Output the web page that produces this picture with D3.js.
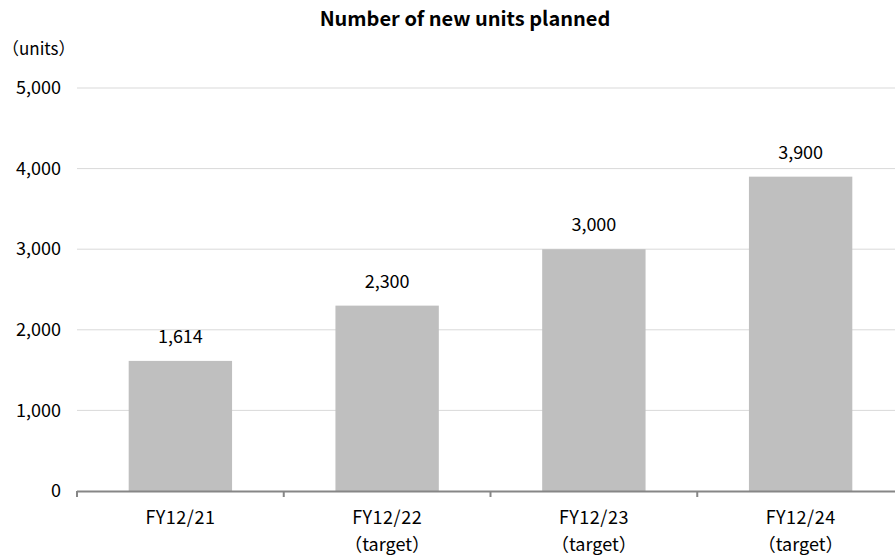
<!DOCTYPE html>
<html>
<head>
<meta charset="utf-8">
<script src="https://cdn.jsdelivr.net/npm/d3@7"></script>
<style>
  html, body { margin: 0; padding: 0; background: #fff; }
  svg text { font-family: "Noto Sans CJK JP", "Noto Sans", sans-serif; fill: #000; }
</style>
</head>
<body>
<svg id="chart" width="895" height="556"></svg>
<script>
// Planned new units per fiscal year
const categories = ["FY12/21", "FY12/22", "FY12/23", "FY12/24"];
const subLabels = ["", "（target）", "（target）", "（target）"];
const units = [1614, 2300, 3000, 3900];
const yTicks = [0, 1000, 2000, 3000, 4000, 5000];

const svg = d3.select("#chart");
const plotLeft = 77, plotRight = 904, plotTop = 88, plotBottom = 491;

const x = d3.scaleBand().domain(categories).range([plotLeft, plotRight]).paddingInner(0.5).paddingOuter(0.25);
const y = d3.scaleLinear().domain([0, 5000]).range([plotBottom, plotTop]);
const fmt = d3.format(",");
const labelSize = "18px";

// title
svg.append("text")
  .attr("x", 465).attr("y", 26)
  .attr("text-anchor", "middle")
  .style("font-size", "20px").style("font-weight", "bold")
  .text("Number of new units planned");

// unit label
svg.append("text")
  .attr("x", 2).attr("y", 55)
  .style("font-size", "17px")
  .text("（units）");

// gridlines
svg.append("g")
  .selectAll("line")
  .data(yTicks.filter(d => d > 0))
  .join("line")
  .attr("x1", plotLeft).attr("x2", 895)
  .attr("y1", d => y(d)).attr("y2", d => y(d))
  .attr("stroke", "#d9d9d9").attr("stroke-width", 1);

// y axis labels
const yAxis = d3.axisLeft(y).tickValues(yTicks).tickFormat(fmt).tickSize(0).tickPadding(16);
const gy = svg.append("g").attr("transform", `translate(${plotLeft},0)`).call(yAxis);
gy.select(".domain").remove();
gy.selectAll("text").style("font-size", labelSize).style("font-family", '"Noto Sans CJK JP", sans-serif').attr("fill", "#000");

// bars
svg.append("g")
  .selectAll("rect")
  .data(units)
  .join("rect")
  .attr("x", (d, i) => x(categories[i]))
  .attr("width", x.bandwidth())
  .attr("y", d => y(d))
  .attr("height", d => y(0) - y(d))
  .attr("fill", "#bfbfbf");

// value labels
svg.append("g")
  .selectAll("text")
  .data(units)
  .join("text")
  .attr("x", (d, i) => x(categories[i]) + x.bandwidth() / 2)
  .attr("y", d => y(d) - 18)
  .attr("text-anchor", "middle")
  .style("font-size", labelSize)
  .text(d => fmt(d));

// x axis
const step = x.step();
const boundaries = categories.map((c, i) => plotLeft + i * step);
const gx = svg.append("g");
gx.append("line")
  .attr("x1", plotLeft).attr("x2", 895)
  .attr("y1", plotBottom + 0.5).attr("y2", plotBottom + 0.5)
  .attr("stroke", "#868686").attr("stroke-width", 2);
gx.selectAll("line.tick")
  .data(boundaries)
  .join("line")
  .attr("class", "tick")
  .attr("x1", d => d).attr("x2", d => d)
  .attr("y1", plotBottom).attr("y2", plotBottom + 6)
  .attr("stroke", "#868686").attr("stroke-width", 2);

// category labels
const cat = svg.append("g").selectAll("g").data(categories).join("g")
  .attr("transform", c => `translate(${x(c) + x.bandwidth() / 2},0)`);
cat.append("text").attr("y", 524).attr("text-anchor", "middle").style("font-size", labelSize)
  .style("letter-spacing", "0.5px").text(c => c);
cat.append("text").attr("y", 551).attr("text-anchor", "middle").style("font-size", labelSize)
  .text((c, i) => subLabels[i]);
</script>
</body>
</html>
